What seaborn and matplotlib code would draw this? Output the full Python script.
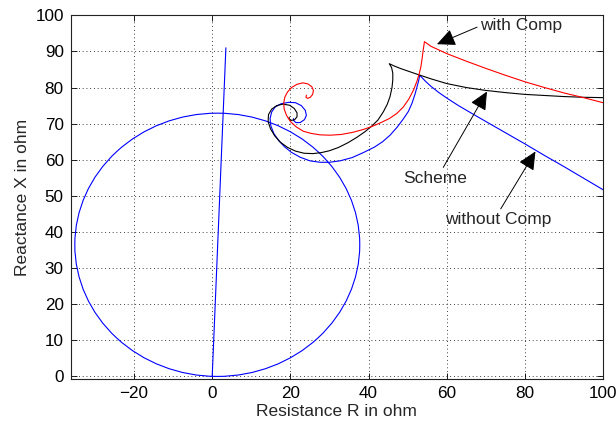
import numpy as np
import pandas as pd
import matplotlib
matplotlib.use("Agg")
import matplotlib.pyplot as plt
from matplotlib.patches import Circle
import seaborn as sns

# Impedance trajectories (R, X in ohm), traced from the load point towards the fault
blue_r = [100, 95, 90, 85, 80, 75, 70, 66, 63, 60, 58, 56, 54.5, 53.1,
          52.8, 52.4, 51.9, 51.1, 50.2, 48.9, 47.3, 45.5, 43.6, 41.5, 38.7, 35.8, 32.7, 30,
          27.6, 25, 22.5, 20.2, 18.5, 17.1, 15.8, 15.0, 14.8, 15.2, 16.1, 17.6, 19.5, 21.3,
          22.8, 23.8, 24.1, 23.6, 22.5, 21.4, 20.8, 20.8]
blue_x = [51.7, 54.9, 58.1, 61.2, 64.4, 67.5, 70.6, 73.1, 75.0, 77.1, 78.6, 80.3, 81.8, 83.4,
          81.8, 80.2, 78.2, 75.6, 73.4, 71.3, 69.0, 66.8, 65.0, 63.5, 62.0, 60.6, 59.7, 59.3,
          59.3, 59.7, 60.7, 62.1, 63.6, 65.2, 67.2, 69.4, 71.4, 73.2, 74.6, 75.5, 75.9, 75.8,
          75.0, 73.7, 72.3, 71.1, 70.3, 70.3, 70.9, 71.4]

black_r = [100, 95, 90, 85, 80, 75, 70, 65, 60, 56, 53.2, 50.5, 48.1, 46.5, 45.3,
           45.9, 46.2, 46.2, 46.0, 45.5, 44.8, 43.8, 42.4, 40.8, 39, 37, 34.7, 32.3, 30, 28,
           25.8, 23.5, 21.3, 19.3, 17.5, 16, 14.9, 14.3, 14.4, 15.2, 16.5, 18.1, 19.8, 21,
           21.7, 21.7, 21.1, 20.3, 19.7, 19.7]
black_x = [77.2, 77.3, 77.5, 77.8, 78.1, 78.6, 79.2, 80.0, 81.1, 82.4, 83.4, 84.4, 85.3, 86.0,
           86.6, 85.5, 84.0, 82.1, 80.0, 77.5, 75.4, 73.3, 71.0, 69.3, 67.7, 66.2, 64.7, 63.4,
           62.5, 62.0, 61.7, 61.8, 62.4, 63.4, 64.8, 66.6, 68.6, 70.6, 72.5, 74.0, 75.0, 75.4,
           75.1, 74.2, 73.0, 71.9, 71.1, 70.9, 71.3, 71.8]

red_r = [100, 95, 90, 85, 80, 75, 70, 65, 60, 58, 56, 54.3,
         54.0, 53.7, 53.4, 53.0, 52.4, 51.5, 50.3, 48.9, 47.2, 45.3, 43, 40.8, 38.7, 36, 33,
         30.1, 27.6, 25.3, 23.3, 21.5, 20, 19, 18.4, 18.3, 18.6, 19.3, 20.3, 21.7, 23.2, 24.5,
         25.5, 25.9, 25.7, 25.1, 24.4, 24.0, 24.1]
red_x = [75.8, 77.2, 78.5, 80.0, 81.6, 83.4, 85.3, 87.3, 89.4, 90.4, 91.4, 92.7,
         90.5, 88.0, 85.8, 84.0, 81.8, 79.3, 76.8, 74.6, 72.8, 71.4, 70.2, 69.2, 68.4, 67.6,
         67.0, 66.8, 66.9, 67.3, 67.9, 69.1, 70.6, 72.3, 74.1, 75.8, 77.4, 78.8, 80.0, 80.9,
         81.3, 81.0, 80.2, 79.2, 78.1, 77.3, 77.0, 77.3, 77.9]

# Protected line impedance and mho characteristic
line_r = [0, 3.5]
line_x = [0, 91]
mho_center = (1.3, 36.45)
mho_radius = 36.45

frames = []
for name, r, x in [("without Comp", blue_r, blue_x),
                   ("Scheme", black_r, black_x),
                   ("with Comp", red_r, red_x),
                   ("line", line_r, line_x)]:
    frames.append(pd.DataFrame({"R": r, "X": x, "curve": name}))
df = pd.concat(frames, ignore_index=True)

sns.set_theme(style="ticks")
plt.rcParams["font.family"] = ["Liberation Sans", "DejaVu Sans"]

fig = plt.figure(figsize=(6.16, 4.23), dpi=100)
ax = fig.add_axes([0.1148, 0.1033, 0.979 - 0.1148, 0.9638 - 0.1033])

palette = {"without Comp": "#0000ff", "Scheme": "#000000", "with Comp": "#ff0000",
           "line": "#0000ff"}
sns.lineplot(data=df, x="R", y="X", hue="curve", units="curve", estimator=None,
             sort=False, palette=palette, linewidth=0.8, legend=False, ax=ax)

ax.add_patch(Circle(mho_center, mho_radius, fill=False, edgecolor="#0000ff", linewidth=0.8))

ax.set_xlim(-36.2, 100)
ax.set_ylim(-0.8, 100)
ax.set_xticks([-20, 0, 20, 40, 60, 80, 100])
ax.set_yticks(np.arange(0, 101, 10))
ax.grid(True, color="black", linestyle=(0, (1, 3.5)), linewidth=0.6)
ax.tick_params(direction="in", length=4, width=0.6, top=True, right=True,
               labelsize=12.3, colors="black", pad=5)
for s in ax.spines.values():
    s.set_visible(True)
    s.set_color("#222222")
    s.set_linewidth(0.8)

ax.set_xlabel("Resistance R in ohm", fontsize=12.5, labelpad=2)
ax.set_ylabel("Reactance X in ohm", fontsize=12.5, labelpad=4)

arrow = dict(arrowstyle="-|>,head_length=0.9,head_width=0.42", color="black",
             linewidth=0.7, shrinkA=0, shrinkB=0)
ax.annotate("with Comp", xy=(57.5, 92.0), xytext=(68.6, 97.1), fontsize=12.5,
            ha="left", va="center", arrowprops=dict(arrow, relpos=(0, 0.5)))
ax.annotate("Scheme", xy=(70.3, 78.9), xytext=(57.0, 54.9), fontsize=12.5,
            ha="center", va="center", arrowprops=dict(arrow, relpos=(0.6, 1.0)))
ax.annotate("without Comp", xy=(82.7, 62.3), xytext=(73.3, 43.4), fontsize=12.5,
            ha="center", va="center", arrowprops=dict(arrow, relpos=(0.5, 1.0)))

fig.savefig("out.png", dpi=100)
